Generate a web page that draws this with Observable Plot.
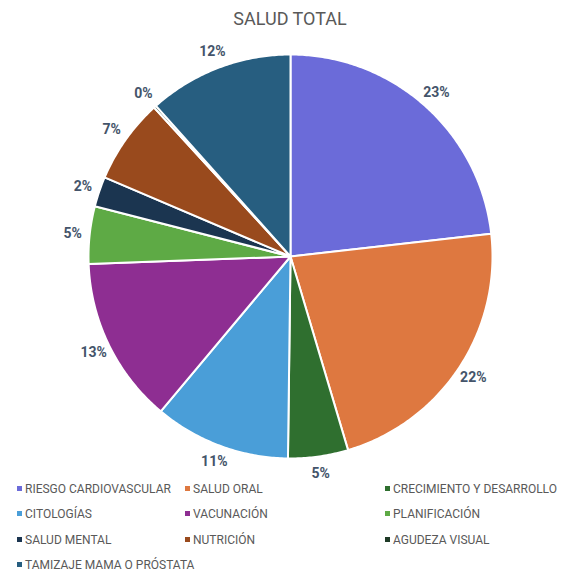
<!DOCTYPE html>
<html>
<head>
<meta charset="utf-8">
<script src="https://cdn.jsdelivr.net/npm/d3@7"></script>
<script src="https://cdn.jsdelivr.net/npm/@observablehq/plot@0.6"></script>
<style>
  body { margin: 0; background: #fff; font-family: Roboto, "Noto Sans", sans-serif; }
  #wrap { position: relative; width: 570px; height: 571px; overflow: hidden; }
  #title { position: absolute; left: 0; top: 8px; width: 580px; text-align: center; font-size: 18px; color: #595959; z-index: 2; }
  #chart { position: absolute; left: 0; top: 20px; }
  .leg { position: absolute; font-size: 12px; color: #595959; white-space: nowrap; line-height: 14px; }
  .leg span.sw { display: inline-block; width: 5px; height: 5px; margin-right: 3px; vertical-align: middle; position: relative; top: -1px; }
</style>
</head>
<body>
<div id="wrap">
  <div id="title">SALUD TOTAL</div>
  <div id="chart"></div>
</div>
<script>
const categories = ["RIESGO CARDIOVASCULAR", "SALUD ORAL", "CRECIMIENTO Y DESARROLLO", "CITOLOGÍAS", "VACUNACIÓN", "PLANIFICACIÓN", "SALUD MENTAL", "NUTRICIÓN", "AGUDEZA VISUAL", "TAMIZAJE MAMA O PRÓSTATA"];
const values = [23.2, 22.2, 4.8, 10.9, 13.3, 4.6, 2.4, 6.8, 0.2, 11.6];
const colors = ["#6b6bd9", "#de7840", "#2f6f2f", "#4a9ed8", "#8e2e92", "#5eaa45", "#1b3550", "#994a1d", "#1e3a26", "#275e80"];

const total = d3.sum(values);
const slices = [];
const labels = [];
let cum = 0;
values.forEach((v, i) => {
  const a0 = cum / total * 2 * Math.PI;
  cum += v;
  const a1 = cum / total * 2 * Math.PI;
  const n = Math.max(2, Math.ceil((a1 - a0) / 0.01));
  slices.push({cat: categories[i], x: 0, y: 0});
  for (let k = 0; k <= n; k++) {
    const a = a0 + (a1 - a0) * k / n;
    slices.push({cat: categories[i], x: Math.sin(a), y: Math.cos(a)});
  }
  slices.push({cat: categories[i], x: 0, y: 0});
  const am = (a0 + a1) / 2;
  labels.push({cat: categories[i], x: 1.085 * Math.sin(am), y: 1.085 * Math.cos(am), text: Math.round(v / total * 100) + "%"});
});

const R = 202, cx = 290, cy = 236;
const plot = Plot.plot({
  width: 570,
  height: 462,
  margin: 0,
  x: {type: "linear", domain: [-1, 1], range: [cx - R, cx + R], axis: null},
  y: {type: "linear", domain: [-1, 1], range: [cy + R, cy - R], axis: null},
  color: {domain: categories, range: colors},
  style: {background: "transparent", overflow: "visible", fontFamily: "Roboto, 'Noto Sans', sans-serif"},
  marks: [
    Plot.line(slices, {x: "x", y: "y", z: "cat", fill: "cat", stroke: "white", strokeWidth: 2, strokeLinejoin: "round", curve: "linear"}),
    Plot.text(labels, {x: "x", y: "y", text: "text", fill: "#44546a", fontSize: 14, fontWeight: "bold"})
  ]
});
document.getElementById("chart").appendChild(plot);

const wrap = document.getElementById("wrap");
const colX = [17, 185, 385];
const rowY = [489, 514, 540, 565];
categories.forEach((c, i) => {
  const d = document.createElement("div");
  d.className = "leg";
  d.style.left = colX[i % 3] + "px";
  d.style.top = (rowY[Math.floor(i / 3)] - 7) + "px";
  d.innerHTML = `<span class="sw" style="background:${colors[i]}"></span>${c}`;
  wrap.appendChild(d);
});
</script>
</body>
</html>
